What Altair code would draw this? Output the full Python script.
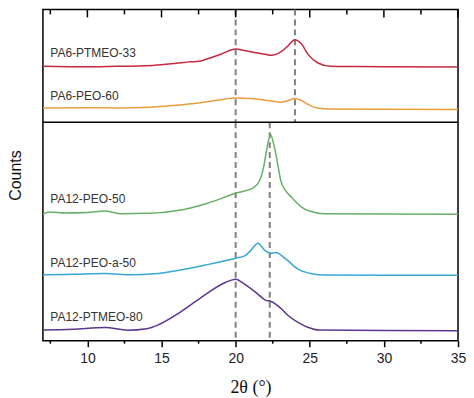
import altair as alt
import pandas as pd

# ---- data (offset counts, arbitrary units) ----
series_names = ["PA6-PTMEO-33", "PA6-PEO-60", "PA12-PEO-50", "PA12-PEO-a-50", "PA12-PTMEO-80"]
series_colors = ["#c62a3c", "#eb9d3c", "#66b066", "#38a8d2", "#5c3690"]

red_x = [7, 10, 12, 14, 15, 16, 17, 17.5, 18, 19, 20, 20.5, 21, 22, 22.4, 23.1, 23.5, 24.0, 24.4, 24.9, 25.55, 26.4, 28, 30, 35]
red_y = [275, 274.5, 275, 275.5, 276.5, 278, 279.5, 280, 282, 287, 292.3, 291, 289.5, 287, 286, 290, 295, 301.7, 298, 286.7, 278.3, 275, 274.7, 274.5, 274.3]

orange_x = [7, 10, 12, 14.2, 16, 17.5, 19, 20, 21, 22, 23, 23.5, 24, 24.4, 24.9, 25.5, 26.5, 30, 35]
orange_y = [233.3, 233.5, 233.3, 234, 236, 238.3, 241.5, 243.3, 242.7, 241, 239, 240.5, 242.7, 241, 236.7, 233.3, 232.3, 232, 231.7]

green_x = [7, 7.5, 8.5, 10, 11.15, 12.2, 14.2, 16.2, 18, 20, 21.2, 21.6, 21.9, 22.1, 22.35, 22.6, 22.8, 23.05, 23.35, 23.8, 24.5, 25.4, 26, 30, 35]
green_y = [127.3, 129, 128, 128.5, 130, 127.3, 127.7, 130.7, 137.3, 147.7, 153.3, 160, 175, 192, 206.7, 195, 180, 160, 151, 143.3, 133.3, 128.3, 127.3, 127, 126.7]

cyan_x = [7, 9, 11.2, 13, 14.5, 16.2, 18, 20, 20.6, 21.0, 21.5, 22.0, 22.35, 22.7, 23.4, 24.2, 25.0, 25.6, 30, 35]
cyan_y = [66, 66.5, 67.3, 66, 67, 70.7, 76, 82.7, 85, 90, 97.7, 90, 87.7, 88.3, 81.7, 71.7, 67.5, 66, 65.7, 65.7]

purple_x = [7, 9, 11.2, 12.7, 14, 14.8, 16.2, 17.2, 18, 19.3, 20, 20.6, 21.5, 22, 22.4, 23.1, 23.5, 24.2, 24.9, 25.6, 30, 35]
purple_y = [10.7, 11.5, 13.3, 10.5, 12, 16, 28, 38.3, 46.7, 58.3, 61.7, 56.7, 46.7, 40.7, 39.3, 31.7, 25.7, 18.3, 13.3, 10.7, 10.3, 10]

label_x = [7.5, 7.5, 7.5, 7.5, 7.5]
label_y = [288.7, 245.7, 141.7, 78.3, 23.3]

# reference lines: (x, y_from, y_to)
ref_x = [20, 24, 20, 22.3]
ref_y1 = [332, 332, 219, 219]
ref_y2 = [219, 219, 0, 0]
divider_y = 219

major_ticks = [10, 15, 20, 25, 30, 35]
minor_ticks = [7.5, 12.5, 17.5, 22.5, 27.5, 32.5]

X_DOMAIN = [7, 35]
Y_DOMAIN = [0, 332]

# ---- build tables ----
rows = []
for name, xs, ys in zip(series_names,
                        [red_x, orange_x, green_x, cyan_x, purple_x],
                        [red_y, orange_y, green_y, cyan_y, purple_y]):
    for i, (a, b) in enumerate(zip(xs, ys)):
        rows.append({"series": name, "x": a, "y": b, "order": i})
curves = pd.DataFrame(rows)
labels = pd.DataFrame({"series": series_names, "x": label_x, "y": label_y})
refs = pd.DataFrame({"x": ref_x, "y1": ref_y1, "y2": ref_y2})
div = pd.DataFrame({"x1": [X_DOMAIN[0]], "x2": [X_DOMAIN[1]], "y": [divider_y]})
top_major = pd.DataFrame({"x": major_ticks})
top_minor = pd.DataFrame({"x": minor_ticks})

xscale = alt.Scale(domain=X_DOMAIN, nice=False, zero=False)
yscale = alt.Scale(domain=Y_DOMAIN, nice=False, zero=False)

xaxis = alt.Axis(
    values=major_ticks, format="d", labelOverlap=False, labelFlush=False,
    tickSize=6, tickColor="black", tickWidth=1.5, domain=False, grid=False,
    labelFont="Liberation Sans", labelFontSize=14, labelColor="#222",
    labelPadding=5, title="2θ (°)", titleFont="Liberation Serif",
    titleFontSize=18, titleFontWeight="normal", titleColor="#111", titlePadding=13,
)
yaxis = alt.Axis(
    labels=False, ticks=False, domain=False, grid=False, title="Counts",
    titleFont="Liberation Sans", titleFontSize=16, titleFontWeight="normal",
    titleColor="#111", titlePadding=19,
)

lines = alt.Chart(curves).mark_line(strokeWidth=1.5, interpolate="monotone").encode(
    x=alt.X("x:Q", scale=xscale, axis=xaxis),
    y=alt.Y("y:Q", scale=yscale, axis=yaxis),
    color=alt.Color("series:N", scale=alt.Scale(domain=series_names, range=series_colors), legend=None),
    order="order:Q",
    detail="series:N",
)

refrules = alt.Chart(refs).mark_rule(color="#808080", strokeWidth=2, strokeDash=[6, 4]).encode(
    x="x:Q", y="y1:Q", y2="y2:Q"
)

divider = alt.Chart(div).mark_rule(color="black", strokeWidth=1.5).encode(
    x="x1:Q", x2="x2:Q", y="y:Q"
)

# inward ticks along the top edge, minor ticks along the bottom edge
tmaj = alt.Chart(top_major).mark_rule(color="black", strokeWidth=1.5).encode(
    x="x:Q", y=alt.datum(332), y2=alt.datum(324)
)
tmin = alt.Chart(top_minor).mark_rule(color="black", strokeWidth=1.5).encode(
    x="x:Q", y=alt.datum(332), y2=alt.datum(327)
)
bmin = alt.Chart(top_minor).mark_rule(color="black", strokeWidth=1.5).encode(
    x="x:Q", y=alt.datum(0), y2=alt.datum(-3)
)

texts = alt.Chart(labels).mark_text(
    align="left", baseline="middle", font="Liberation Sans", fontSize=12, color="#333"
).encode(x="x:Q", y="y:Q", text="series:N")

chart = alt.layer(refrules, lines, divider, tmaj, tmin, bmin, texts).properties(
    width=416, height=332, padding=0
).configure_view(stroke="black", strokeWidth=1.5)

chart.save("out.html", embed_options={"renderer": "svg", "actions": False})
